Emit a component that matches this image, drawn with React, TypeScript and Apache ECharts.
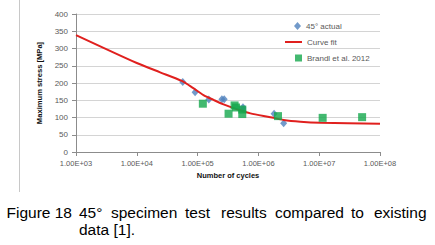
import React, { useEffect, useRef } from "react";
import * as echarts from "echarts";

// Data
const actualCycles = [57000, 91000, 153000, 251000, 274000, 557000, 560000, 1810000, 2600000];
const actualStress = [203, 173, 152, 153, 153, 130, 125, 111, 83];

const brandlCycles = [122000, 323000, 406000, 428000, 543000, 543000, 2100000, 11400000, 50800000];
const brandlStress = [140, 111, 135, 129, 123, 110, 104, 99, 101];

const fitCycles = [1e3, 1e4, 2.42e4, 5.5e4, 8.5e4, 1.25e5, 1.83e5, 2.67e5, 4.45e5, 7.4e5, 1.57e6, 2.6e6, 4.9e6, 1.05e7, 1e8];
const fitStress = [339, 258, 231, 206, 185, 165, 151, 138, 124, 112, 101, 93, 88, 85, 82];

const yTicks = { min: 0, max: 400, interval: 50 };
const xRange = { min: 1e3, max: 1e8 };

const captionLine1 = ["Figure 18", "45°", "specimen", "test", "results", "compared", "to", "existing"];
const captionLine1X = [6.5, 79, 111, 185, 221, 275, 351, 374];
const captionLine2 = "data [1].";

const fmtExp = (v: number) => {
  const e = Math.round(Math.log10(v));
  const m = v / Math.pow(10, e);
  return `${m.toFixed(2)}E+${String(e).padStart(2, "0")}`;
};

export default function App() {
  const ref = useRef<HTMLDivElement>(null);
  useEffect(() => {
    document.body.style.margin = "0";
    if (!ref.current) return;
    const chart = echarts.init(ref.current, null, { renderer: "svg" });
    const captionFont = "15.5px 'Liberation Sans', Arial, sans-serif";
    const labelFont = "'Liberation Sans', Arial, sans-serif";
    const graphics: any[] = [
      {
        type: "line",
        shape: { x1: 19.5, y1: 0, x2: 19.5, y2: 192 },
        style: { stroke: "#c8c8c8", lineWidth: 1 },
        silent: true,
      },
      ...captionLine1.map((w, i) => ({
        type: "text",
        x: captionLine1X[i],
        y: 204,
        style: { text: w, font: captionFont, fill: "#000", verticalAlign: "top" },
      })),
      {
        type: "text",
        x: 79,
        y: 221,
        style: { text: captionLine2, font: captionFont, fill: "#000", verticalAlign: "top" },
      },
    ];
    chart.setOption({
      animation: false,
      backgroundColor: "#fff",
      textStyle: { fontFamily: labelFont },
      grid: { left: 76, right: 55, top: 14, bottom: 93, containLabel: false },
      xAxis: {
        type: "log",
        logBase: 10,
        min: xRange.min,
        max: xRange.max,
        name: "Number of cycles",
        nameLocation: "middle",
        nameGap: 19,
        nameTextStyle: { fontSize: 7.5, fontWeight: "bold", color: "#111" },
        axisLine: { show: true, lineStyle: { color: "#8c8c8c", width: 1 } },
        axisTick: { show: true, length: 4, inside: false, lineStyle: { color: "#8c8c8c" } },
        minorTick: { show: false },
        splitLine: { show: false },
        axisLabel: { fontSize: 7.5, color: "#595959", margin: 7, formatter: (v: number) => fmtExp(v) },
      },
      yAxis: {
        type: "value",
        min: yTicks.min,
        max: yTicks.max,
        interval: yTicks.interval,
        name: "Maximum stress [MPa]",
        nameLocation: "middle",
        nameGap: 23,
        nameTextStyle: { fontSize: 7.6, fontWeight: "bold", color: "#111" },
        axisLine: { show: true, lineStyle: { color: "#8c8c8c", width: 1 } },
        axisTick: { show: true, length: 4, inside: false, lineStyle: { color: "#8c8c8c" } },
        splitLine: { show: true, lineStyle: { color: "#d4d4d4", width: 1 } },
        axisLabel: { fontSize: 8, color: "#595959", margin: 8 },
      },
      legend: [
        {
          data: [{ name: "45° actual", icon: "diamond" }],
          left: 294,
          top: 22,
          padding: 0,
          itemWidth: 7,
          itemHeight: 8,
          textStyle: { fontSize: 8, color: "#595959" },
          selectedMode: false,
        },
        {
          data: [{ name: "Curve fit", icon: "rect", itemStyle: { color: "#e0201e" } }],
          left: 285,
          top: 38,
          padding: 0,
          itemWidth: 17,
          itemHeight: 2,
          textStyle: { fontSize: 8, color: "#595959" },
          selectedMode: false,
        },
        {
          data: [{ name: "Brandl et al. 2012", icon: "rect" }],
          left: 295,
          top: 54,
          padding: 0,
          itemWidth: 7,
          itemHeight: 7,
          textStyle: { fontSize: 8, color: "#595959" },
          selectedMode: false,
        },
      ],
      series: [
        {
          name: "45° actual",
          type: "scatter",
          symbol: "diamond",
          symbolSize: [7, 8],
          itemStyle: { color: "#4f81bd" },
          data: actualCycles.map((c, i) => [c, actualStress[i]]),
          z: 2,
        },
        {
          name: "Curve fit",
          type: "line",
          showSymbol: false,
          symbol: "none",
          smooth: 0.25,
          lineStyle: { color: "#e0201e", width: 2 },
          itemStyle: { color: "#e0201e" },
          data: fitCycles.map((c, i) => [c, fitStress[i]]),
          z: 3,
        },
        {
          name: "Brandl et al. 2012",
          type: "scatter",
          symbol: "rect",
          symbolSize: 8,
          itemStyle: { color: "#14a84c" },
          data: brandlCycles.map((c, i) => [c, brandlStress[i]]),
          z: 4,
        },
      ],
      graphic: graphics,
    });
    return () => chart.dispose();
  }, []);
  return <div ref={ref} style={{ width: 435, height: 245 }} />;
}
